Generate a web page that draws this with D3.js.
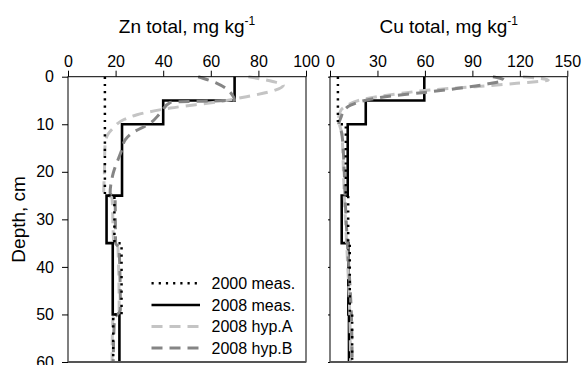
<!DOCTYPE html>
<html>
<head>
<meta charset="utf-8">
<script src="https://cdn.jsdelivr.net/npm/d3@7"></script>
<style>
  body { margin: 0; background: #fff; }
  svg { display: block; }
  text { font-family: "Liberation Sans", Arial, sans-serif; fill: #000; }
</style>
</head>
<body>
<svg id="chart" width="584" height="365"></svg>
<script>
// ---------- DATA ----------
const layerDepths = [0, 5, 10, 25, 35, 50, 60];          // layer boundaries, cm
const znTicks = [0, 20, 40, 60, 80, 100];
const cuTicks = [0, 30, 60, 90, 120, 150];
const depthTicks = [0, 10, 20, 30, 40, 50, 60];

// measured (layer means), Zn
const zn2000 = [15.5, 15.5, 15.5, 19.5, 22.5, 19];
const zn2008 = [70, 40, 22.7, 16.2, 18.8, 21.6];
// measured, Cu
const cu2000 = [5, 5, 10, 11.5, 12.5, 14];
const cu2008 = [59.6, 22.6, 11.2, 7.4, 11.6, 12];

// hypotheses: depth points and values
const znHypADepth = [0, 1, 1.75, 3, 4.2, 5.2, 6.6, 8, 9, 10.8, 12.6, 15, 20, 24.5, 25.5, 35, 36, 49, 51, 60];
const znHypA      = [75.8, 86, 90.5, 86, 75, 64, 43, 29, 23.5, 19, 16.3, 15.5, 15.3, 15, 18.5, 19.2, 21, 21.5, 18.8, 18.5];
const znHypBDepth = [0, 1.4, 3.8, 4.9, 5.4, 7.7, 9.8, 11.9, 13.3, 15.4, 20.3, 24.5, 25.5, 35, 36, 49, 51, 60];
const znHypB      = [54.7, 62.6, 69, 70, 43, 38.7, 34.5, 26.8, 24, 22.6, 19, 17.7, 19.8, 20, 21.5, 22, 19.5, 19];

const cuHypADepth = [0, 0.7, 1.4, 2.1, 2.8, 3.5, 4.2, 5, 6, 7, 8.5, 10, 12, 20, 25, 35, 50, 60];
const cuHypA      = [122, 138, 118, 92, 63, 45, 30, 18, 11, 7, 5.5, 6, 7.5, 8.5, 9, 10.5, 12.5, 13];
const cuHypBDepth = [0, 0.7, 1.5, 2.5, 3.3, 4, 5, 6, 7, 8.5, 10, 12, 20, 25, 35, 50, 60];
const cuHypB      = [103, 110, 100, 80, 60, 40, 22, 13, 9, 7, 5.5, 7.5, 9, 9.5, 11, 13.5, 14];

const seriesNames = ["2000 meas.", "2008 meas.", "2008 hyp.A", "2008 hyp.B"];

// ---------- STYLE ----------
const styles = {
  "2000 meas.": { stroke: "#000", width: 2.5, dash: "2.2,5" },
  "2008 meas.": { stroke: "#000", width: 2.6, dash: null },
  "2008 hyp.A": { stroke: "#c4c4c4", width: 3, dash: "11,7" },
  "2008 hyp.B": { stroke: "#858585", width: 3, dash: "11,7" }
};

const svg = d3.select("#chart");
const yTop = 76.7, yBottom = 362;
const y = d3.scaleLinear().domain([0, 60]).range([yTop, yBottom]);

function stepPoints(vals) {
  const pts = [];
  vals.forEach((v, i) => { pts.push([v, layerDepths[i]]); pts.push([v, layerDepths[i + 1]]); });
  return pts;
}
function curvePoints(depths, vals) { return depths.map((d, i) => [vals[i], d]); }

function panel(x0, x1, domain, ticks, title, meas2000, meas2008, hA, hB, showYLabels) {
  const x = d3.scaleLinear().domain(domain).range([x0, x1]);
  const g = svg.append("g");

  const stepLine = d3.line().x(d => x(d[0])).y(d => y(d[1]));
  const smoothLine = d3.line().x(d => x(d[0])).y(d => y(d[1])).curve(d3.curveMonotoneY);

  const clipId = "clip" + Math.round(x0);
  svg.append("clipPath").attr("id", clipId).append("rect")
    .attr("x", x0).attr("y", yTop - 2).attr("width", x1 - x0 + 4).attr("height", yBottom - yTop + 2);
  const plot = g.append("g").attr("clip-path", `url(#${clipId})`);

  function draw(name, d, gen) {
    const s = styles[name];
    plot.append("path").attr("d", gen(d)).attr("fill", "none")
      .attr("stroke", s.stroke).attr("stroke-width", s.width)
      .attr("stroke-dasharray", s.dash).attr("stroke-linejoin", "miter");
  }
  draw("2008 meas.", stepPoints(meas2008), stepLine);
  draw("2008 hyp.A", hA, smoothLine);
  draw("2008 hyp.B", hB, smoothLine);
  draw("2000 meas.", stepPoints(meas2000), stepLine);

  // frame
  g.append("rect").attr("x", x0).attr("y", yTop).attr("width", x1 - x0).attr("height", yBottom - yTop)
    .attr("fill", "none").attr("stroke", "#000").attr("stroke-width", 1);
  g.append("line").attr("x1", x0).attr("x2", x1).attr("y1", yBottom).attr("y2", yBottom)
    .attr("stroke", "#555").attr("stroke-width", 2);

  // top axis
  const ax = g.append("g").attr("transform", `translate(0,${yTop})`)
    .call(d3.axisTop(x).tickValues(ticks).tickSize(6).tickSizeOuter(0).tickPadding(4));
  ax.select(".domain").remove();
  ax.selectAll("text").attr("font-size", 16).attr("font-family", '"Liberation Sans", Arial, sans-serif');

  // left axis
  const ay = g.append("g").attr("transform", `translate(${x0},0)`)
    .call(d3.axisLeft(y).tickValues(depthTicks).tickSize(showYLabels ? 6 : 2).tickSizeOuter(0).tickPadding(8)
      .tickFormat(showYLabels ? d3.format("d") : () => ""));
  ay.select(".domain").remove();
  ay.selectAll("text").attr("font-size", 16).attr("font-family", '"Liberation Sans", Arial, sans-serif');

  // title
  const t = svg.append("text").attr("x", (x0 + x1) / 2).attr("y", 33).attr("text-anchor", "middle")
    .attr("font-size", 19);
  t.append("tspan").text(title);
  t.append("tspan").attr("dy", -8).attr("font-size", 12).text("-1");
  return x;
}

panel(68, 306, [0, 100], znTicks, "Zn total, mg kg",
  zn2000, zn2008, curvePoints(znHypADepth, znHypA), curvePoints(znHypBDepth, znHypB), true);
panel(330, 567.3, [0, 150], cuTicks, "Cu total, mg kg",
  cu2000, cu2008, curvePoints(cuHypADepth, cuHypA), curvePoints(cuHypBDepth, cuHypB), false);

// y label
svg.append("text").attr("transform", `translate(25,${(yTop + yBottom) / 2}) rotate(-90)`)
  .attr("text-anchor", "middle").attr("font-size", 19).text("Depth, cm");

// legend
const legRows = [283.3, 305, 326.5, 348];
const leg = svg.append("g");
seriesNames.forEach((n, i) => {
  const s = styles[n];
  leg.append("line").attr("x1", 151.5).attr("x2", 200).attr("y1", legRows[i]).attr("y2", legRows[i])
    .attr("stroke", s.stroke).attr("stroke-width", s.width).attr("stroke-dasharray", s.dash);
  leg.append("text").attr("x", 211.5).attr("y", legRows[i] + 5.8).attr("font-size", 16).text(n);
});
</script>
</body>
</html>
